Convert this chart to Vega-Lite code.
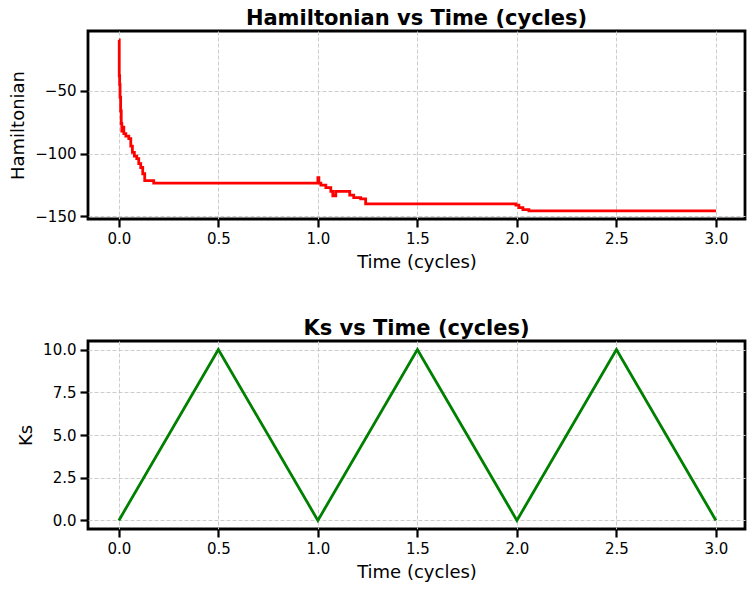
{
  "$schema": "https://vega.github.io/schema/vega-lite/v6.json",
  "padding": {"left": 8, "top": 6, "right": 8, "bottom": 5},
  "datasets": {
    "hamiltonian": [
      {"t": 0.0, "h": -9.5},
      {"t": 0.002, "h": -38},
      {"t": 0.004, "h": -45},
      {"t": 0.006, "h": -55},
      {"t": 0.009, "h": -66},
      {"t": 0.012, "h": -76},
      {"t": 0.015, "h": -82},
      {"t": 0.02, "h": -79},
      {"t": 0.025, "h": -84},
      {"t": 0.035, "h": -86},
      {"t": 0.05, "h": -88},
      {"t": 0.06, "h": -94},
      {"t": 0.068, "h": -99},
      {"t": 0.078, "h": -102},
      {"t": 0.09, "h": -104},
      {"t": 0.1, "h": -108},
      {"t": 0.11, "h": -111},
      {"t": 0.12, "h": -116},
      {"t": 0.13, "h": -121.5},
      {"t": 0.175, "h": -123.5},
      {"t": 1.0, "h": -119},
      {"t": 1.005, "h": -123.5},
      {"t": 1.015, "h": -125},
      {"t": 1.04, "h": -127},
      {"t": 1.065, "h": -130},
      {"t": 1.075, "h": -133.5},
      {"t": 1.09, "h": -130},
      {"t": 1.16, "h": -133},
      {"t": 1.18, "h": -135},
      {"t": 1.215, "h": -136},
      {"t": 1.24, "h": -140},
      {"t": 1.995, "h": -141},
      {"t": 2.01, "h": -143},
      {"t": 2.03, "h": -144.5},
      {"t": 2.06, "h": -145.5},
      {"t": 3.0, "h": -145.5}
    ],
    "ks": [
      {"t": 0.0, "ks": 0},
      {"t": 0.5, "ks": 10},
      {"t": 1.0, "ks": 0},
      {"t": 1.5, "ks": 10},
      {"t": 2.0, "ks": 0},
      {"t": 2.5, "ks": 10},
      {"t": 3.0, "ks": 0}
    ]
  },
  "vconcat": [
    {
      "title": "Hamiltonian vs Time (cycles)",
      "width": 657,
      "height": 188,
      "data": {"name": "hamiltonian"},
      "mark": {"type": "line", "interpolate": "step-after", "color": "#ff0000", "strokeWidth": 2.8},
      "encoding": {
        "x": {
          "field": "t",
          "type": "quantitative",
          "title": "Time (cycles)",
          "scale": {"domain": [-0.155, 3.146], "nice": false, "zero": false},
          "axis": {"values": [0, 0.5, 1, 1.5, 2, 2.5, 3], "format": ".1f"}
        },
        "y": {
          "field": "h",
          "type": "quantitative",
          "title": "Hamiltonian",
          "scale": {"domain": [-152, -2.4], "nice": false, "zero": false},
          "axis": {"values": [-50, -100, -150], "format": "d"}
        }
      }
    },
    {
      "title": "Ks vs Time (cycles)",
      "width": 657,
      "height": 188,
      "data": {"name": "ks"},
      "mark": {"type": "line", "color": "#008000", "strokeWidth": 2.8},
      "encoding": {
        "x": {
          "field": "t",
          "type": "quantitative",
          "title": "Time (cycles)",
          "scale": {"domain": [-0.155, 3.146], "nice": false, "zero": false},
          "axis": {"values": [0, 0.5, 1, 1.5, 2, 2.5, 3], "format": ".1f"}
        },
        "y": {
          "field": "ks",
          "type": "quantitative",
          "title": "Ks",
          "scale": {"domain": [-0.5, 10.5], "nice": false, "zero": false},
          "axis": {"values": [0, 2.5, 5, 7.5, 10], "format": ".1f"}
        }
      }
    }
  ],
  "spacing": 122,
  "bounds": "flush",
  "config": {
    "font": "DejaVu Sans",
    "view": {"stroke": "black", "strokeWidth": 2.8},
    "title": {"fontSize": 21, "fontWeight": "bold", "color": "black", "offset": 2, "anchor": "middle"},
    "axis": {
      "domain": false,
      "ticks": true,
      "tickColor": "black",
      "tickWidth": 2.2,
      "tickSize": 8,
      "labelFontSize": 15,
      "labelColor": "black",
      "labelPadding": 4,
      "titleFontSize": 18,
      "titleFontWeight": "normal",
      "titleColor": "black",
      "titlePadding": 7,
      "grid": true,
      "gridColor": "#cccccc",
      "gridDash": [4, 2],
      "gridWidth": 1
    }
  }
}
